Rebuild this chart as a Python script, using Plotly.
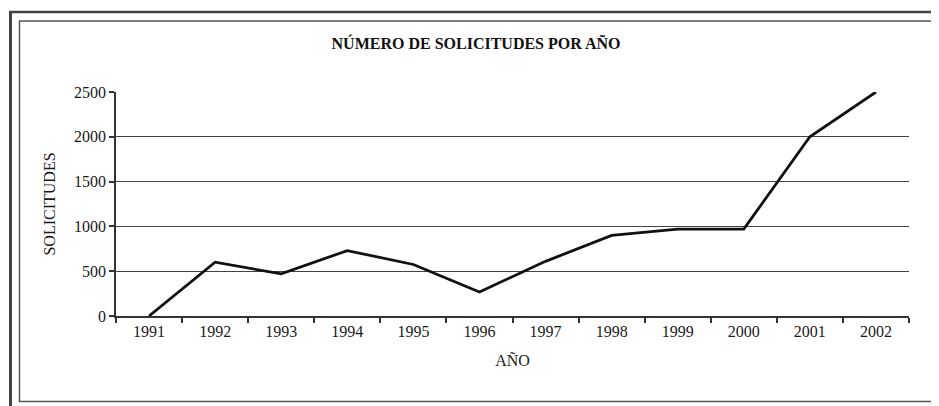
import plotly.graph_objects as go

years = ["1991", "1992", "1993", "1994", "1995", "1996", "1997", "1998", "1999", "2000", "2001", "2002"]
solicitudes = [0, 600, 470, 730, 575, 268, 610, 900, 970, 970, 2000, 2500]
y_ticks = [0, 500, 1000, 1500, 2000, 2500]

title_text = "NÚMERO DE SOLICITUDES POR AÑO"
x_title = "AÑO"
y_title = "SOLICITUDES"

OFF = 8  # page body offset
W, H = 939 - OFF, 406 - OFF
L, R, T, B = 116 - OFF, 30, 92 - OFF, 90
PW, PH = W - L - R, H - T - B


def px(x):
    return (x - OFF - L) / PW


def py(y):
    return (H - B - (y - OFF)) / PH


FONT = "Liberation Serif, Times New Roman, serif"

fig = go.Figure()
fig.add_trace(go.Scatter(
    x=years, y=solicitudes, mode="lines",
    line=dict(color="#111111", width=2.8),
    showlegend=False, hoverinfo="x+y",
))

shapes = [
    # outer double frame (left + top)
    dict(type="line", xref="paper", yref="paper", x0=px(10.5), x1=px(10.5), y0=py(11), y1=py(410),
         line=dict(color="#444444", width=3)),
    dict(type="line", xref="paper", yref="paper", x0=px(9), x1=px(945), y0=py(12), y1=py(12),
         line=dict(color="#444444", width=2.5)),
    # inner frame
    dict(type="rect", xref="paper", yref="paper", x0=px(19.5), x1=px(934), y0=py(21), y1=py(401.5),
         line=dict(color="#555555", width=1.5)),
]

fig.update_layout(
    width=W, height=H,
    margin=dict(l=L, r=R, t=T, b=B),
    paper_bgcolor="white", plot_bgcolor="white",
    font=dict(family=FONT, size=16, color="#1a1a1a"),
    shapes=shapes,
    title=dict(text="<b>" + title_text + "</b>", x=(476 - OFF) / W, xref="container", xanchor="center",
               y=1 - (43 - OFF) / H, yref="container", yanchor="middle",
               font=dict(family=FONT, size=16, color="#111111")),
    xaxis=dict(
        type="category", range=[-0.5, 11.5], tickson="boundaries",
        showline=True, linecolor="#333333", linewidth=1.5,
        ticks="outside", ticklen=5, tickcolor="#333333", tickwidth=1.5,
        showgrid=False, zeroline=False,
        tickfont=dict(family=FONT, size=16, color="#1a1a1a"),
        title=dict(text=x_title, standoff=16, font=dict(family=FONT, size=16, color="#1a1a1a")),
        fixedrange=True,
    ),
    yaxis=dict(
        range=[0, 2500], tickvals=y_ticks,
        showline=True, linecolor="#333333", linewidth=1.5,
        ticks="outside", ticklen=5, tickcolor="#333333", tickwidth=1.5,
        showgrid=True, gridcolor="#444444", gridwidth=1.2, zeroline=False,
        tickfont=dict(family=FONT, size=16, color="#1a1a1a"),
        title=dict(text=y_title, standoff=14, font=dict(family=FONT, size=16, color="#1a1a1a")),
        fixedrange=True,
    ),
)

fig.write_html("out.html", config={"displayModeBar": False})
